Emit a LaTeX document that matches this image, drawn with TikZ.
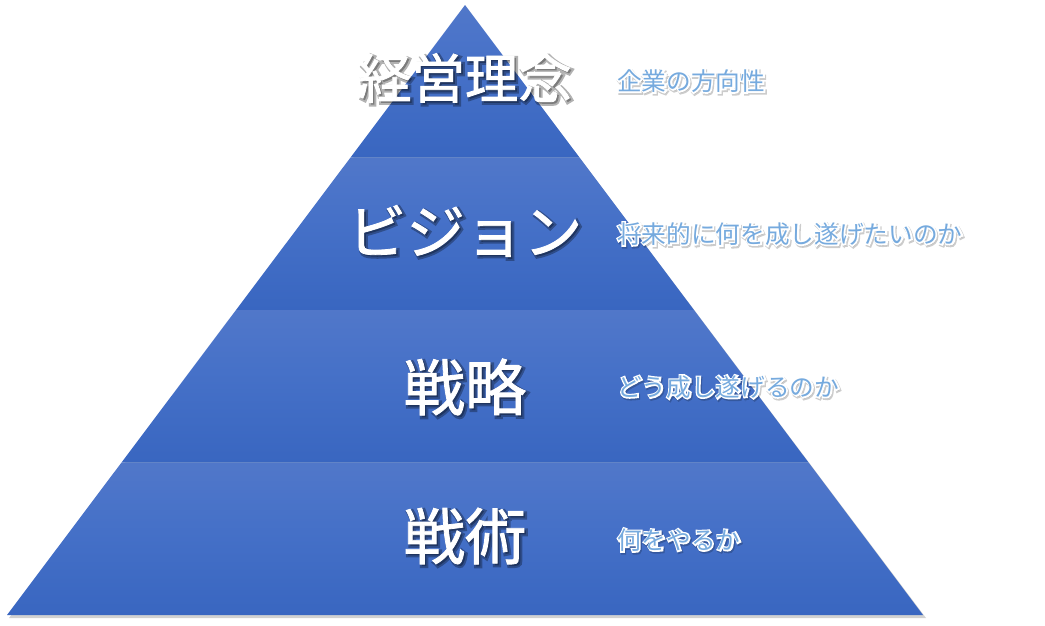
\documentclass[tikz,border=0pt]{standalone}
\usepackage{fontspec}
\newfontfamily\jp{Noto Sans CJK JP}
\definecolor{bandbot}{HTML}{2E5DBA}
\definecolor{bandmid}{HTML}{4671C8}
\definecolor{bandtop}{HTML}{5C7ECB}
\definecolor{bandhl}{HTML}{6888CF}
\definecolor{sublbl}{HTML}{76AADE}
\pgfdeclareverticalshading{band}{100bp}{color(0bp)=(bandbot); color(55bp)=(bandmid); color(96bp)=(bandtop); color(100bp)=(bandhl)}
% text with stroked outline: #1 line width (bp), #2 stroke rgb, #3 text
\newcommand\strk[3]{\special{pdf:literal 2 Tr #1 w #2 RG}#3\special{pdf:literal 0 Tr 0 0 0 RG}}
% outlined sub label: white outline under a light blue fill
\newcommand\outl[1]{\rlap{\color{white}\strk{2.2}{1 1 1}{#1}}#1}
\tikzset{
  bandfill/.style={shading=band},
  mainlbl/.style={font=\jp\fontsize{40}{40}\selectfont, text=white, inner sep=0pt},
  mainshadow/.style={font=\jp\fontsize{40}{40}\selectfont, text=black, opacity=0.3, inner sep=0pt},
  sublblsty/.style={font=\jp\fontsize{18.5}{18.5}\selectfont, text=sublbl, anchor=west, inner sep=0pt},
  subshadow/.style={font=\jp\fontsize{18.5}{18.5}\selectfont, text=black, opacity=0.2, anchor=west, inner sep=0pt},
}
\begin{document}
\begin{tikzpicture}[x=0.75pt,y=-0.75pt]
\useasboundingbox (0,0) rectangle (1045,625);
% pyramid shadow
\fill[black,opacity=0.18] (466,7) -- (926,618) -- (9,618) -- cycle;
% bands
\shade[bandfill] (465,5) -- (579.5,157.5) -- (350.5,157.5) -- cycle;
\shade[bandfill] (350.5,157.5) -- (579.5,157.5) -- (694,310) -- (236,310) -- cycle;
\shade[bandfill] (236,310) -- (694,310) -- (808.5,462.5) -- (121.5,462.5) -- cycle;
\shade[bandfill] (121.5,462.5) -- (808.5,462.5) -- (923,615) -- (7,615) -- cycle;
% main labels
\node[mainshadow] (s1) at (467,80) {\strk{3}{0 0 0}{経営理念}};
\node[mainlbl] (t1) at (465,78) {\strk{0.6}{1 1 1}{経営理念}};
\node[mainshadow, font=\jp\fontsize{44}{44}\selectfont] (s2) at (467,233) {\strk{3}{0 0 0}{ビジョン}};
\node[mainlbl, font=\jp\fontsize{44}{44}\selectfont] (t2) at (465,231) {\strk{0.6}{1 1 1}{ビジョン}};
\node[mainshadow, font=\jp\fontsize{46}{46}\selectfont] (s3) at (467,389) {\strk{3}{0 0 0}{戦略}};
\node[mainlbl, font=\jp\fontsize{46}{46}\selectfont] (t3) at (465,387) {\strk{0.6}{1 1 1}{戦略}};
\node[mainshadow, font=\jp\fontsize{46}{46}\selectfont] (s4) at (467,538) {\strk{3}{0 0 0}{戦術}};
\node[mainlbl, font=\jp\fontsize{46}{46}\selectfont] (t4) at (465,536) {\strk{0.6}{1 1 1}{戦術}};
% sub labels
\node[subshadow] (u1s) at (618,82.5) {\strk{2.6}{0 0 0}{企業の方向性}};
\node[sublblsty] (u1) at (617,81) {\outl{企業の方向性}};
\node[subshadow] (u2s) at (618,235.5) {\strk{2.6}{0 0 0}{将来的に何を成し遂げたいのか}};
\node[sublblsty] (u2) at (617,234) {\outl{将来的に何を成し遂げたいのか}};
\node[subshadow] (u3s) at (618,388.5) {\strk{2.6}{0 0 0}{どう成し遂げるのか}};
\node[sublblsty] (u3) at (617,387) {\outl{どう成し遂げるのか}};
\node[subshadow] (u4s) at (618,541.5) {\strk{2.6}{0 0 0}{何をやるか}};
\node[sublblsty] (u4) at (617,540) {\outl{何をやるか}};
\end{tikzpicture}
\end{document}
